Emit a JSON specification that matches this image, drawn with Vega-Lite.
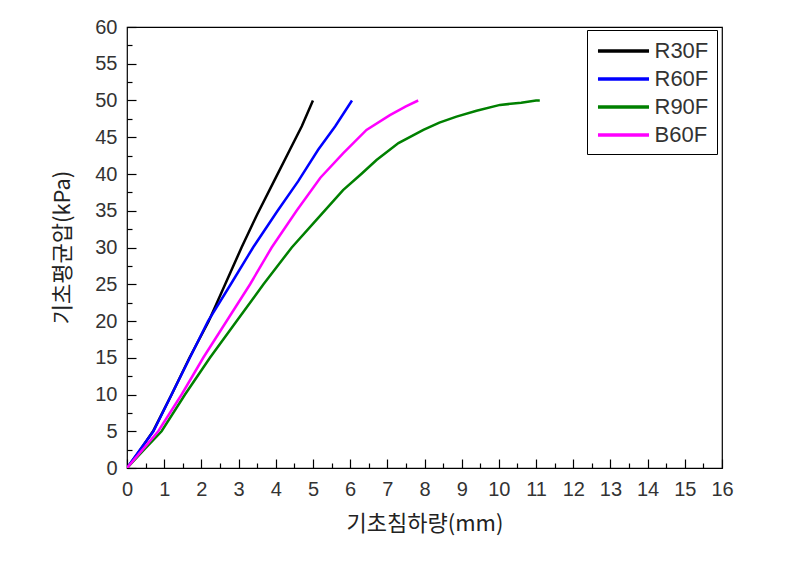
{
  "$schema": "https://vega.github.io/schema/vega-lite/v6.json",
  "width": 595,
  "height": 441,
  "autosize": {"type": "none"},
  "padding": {"left": 127, "top": 27, "right": 80, "bottom": 96},
  "background": "white",
  "config": {
    "view": {"stroke": "black", "strokeWidth": 1.2},
    "axis": {"grid": false, "domain": false, "tickColor": "black", "tickWidth": 1.2, "labelColor": "#333", "titleColor": "#222"}
  },
  "data": {
    "values": [
      {"series": "R30F", "x": 0, "y": 0},
      {"series": "R30F", "x": 0.36, "y": 2.5},
      {"series": "R30F", "x": 0.7, "y": 5},
      {"series": "R30F", "x": 1.2, "y": 10},
      {"series": "R30F", "x": 1.68, "y": 15},
      {"series": "R30F", "x": 2.2, "y": 20},
      {"series": "R30F", "x": 2.64, "y": 25},
      {"series": "R30F", "x": 3.08, "y": 30},
      {"series": "R30F", "x": 3.5, "y": 34.5},
      {"series": "R30F", "x": 3.95, "y": 39},
      {"series": "R30F", "x": 4.38, "y": 43.3},
      {"series": "R30F", "x": 4.7, "y": 46.5},
      {"series": "R30F", "x": 5.0, "y": 50},
      {"series": "R60F", "x": 0, "y": 0},
      {"series": "R60F", "x": 0.35, "y": 2.5},
      {"series": "R60F", "x": 0.71, "y": 5},
      {"series": "R60F", "x": 1.2, "y": 10},
      {"series": "R60F", "x": 1.69, "y": 15},
      {"series": "R60F", "x": 2.18, "y": 20},
      {"series": "R60F", "x": 2.79, "y": 25},
      {"series": "R60F", "x": 3.39, "y": 30},
      {"series": "R60F", "x": 4.05, "y": 35},
      {"series": "R60F", "x": 4.6, "y": 39},
      {"series": "R60F", "x": 5.14, "y": 43.3},
      {"series": "R60F", "x": 5.6, "y": 46.5},
      {"series": "R60F", "x": 6.05, "y": 50},
      {"series": "R90F", "x": 0, "y": 0},
      {"series": "R90F", "x": 0.46, "y": 2.5},
      {"series": "R90F", "x": 0.93, "y": 5},
      {"series": "R90F", "x": 1.56, "y": 10},
      {"series": "R90F", "x": 2.23, "y": 15},
      {"series": "R90F", "x": 2.95, "y": 20},
      {"series": "R90F", "x": 3.67, "y": 25},
      {"series": "R90F", "x": 4.43, "y": 30},
      {"series": "R90F", "x": 5.1, "y": 33.8},
      {"series": "R90F", "x": 5.81, "y": 37.8},
      {"series": "R90F", "x": 6.3, "y": 40},
      {"series": "R90F", "x": 6.71, "y": 41.9},
      {"series": "R90F", "x": 7.3, "y": 44.2},
      {"series": "R90F", "x": 7.97, "y": 46.0},
      {"series": "R90F", "x": 8.4, "y": 47},
      {"series": "R90F", "x": 8.86, "y": 47.8},
      {"series": "R90F", "x": 9.4, "y": 48.6},
      {"series": "R90F", "x": 10.03, "y": 49.4},
      {"series": "R90F", "x": 10.6, "y": 49.7},
      {"series": "R90F", "x": 11.0, "y": 50.0},
      {"series": "R90F", "x": 11.1, "y": 50.0},
      {"series": "B60F", "x": 0, "y": 0},
      {"series": "B60F", "x": 0.42, "y": 2.5},
      {"series": "B60F", "x": 0.84, "y": 5},
      {"series": "B60F", "x": 1.47, "y": 10},
      {"series": "B60F", "x": 2.05, "y": 15},
      {"series": "B60F", "x": 2.68, "y": 20},
      {"series": "B60F", "x": 3.31, "y": 25},
      {"series": "B60F", "x": 3.89, "y": 30},
      {"series": "B60F", "x": 4.56, "y": 35},
      {"series": "B60F", "x": 5.2, "y": 39.5},
      {"series": "B60F", "x": 5.81, "y": 42.8},
      {"series": "B60F", "x": 6.44, "y": 46.0},
      {"series": "B60F", "x": 7.07, "y": 48.0},
      {"series": "B60F", "x": 7.5, "y": 49.2},
      {"series": "B60F", "x": 7.83, "y": 50}
    ]
  },
  "layer": [
    {
      "mark": {"type": "line", "opacity": 0},
      "encoding": {
        "x": {
          "field": "x", "type": "quantitative",
          "scale": {"domain": [0, 16], "nice": false},
          "axis": {
            "orient": "bottom", "title": null, "labels": false,
            "values": [0.5,1.5,2.5,3.5,4.5,5.5,6.5,7.5,8.5,9.5,10.5,11.5,12.5,13.5,14.5,15.5],
            "tickSize": 5, "offset": -5
          }
        },
        "y": {
          "field": "y", "type": "quantitative",
          "scale": {"domain": [0, 60], "nice": false},
          "axis": {
            "orient": "left", "title": null, "labels": false,
            "values": [2.5,7.5,12.5,17.5,22.5,27.5,32.5,37.5,42.5,47.5,52.5,57.5],
            "tickSize": 5, "offset": -5
          }
        }
      }
    },
    {
      "mark": {"type": "line", "strokeWidth": 2.5, "clip": true},
      "encoding": {
        "x": {
          "field": "x", "type": "quantitative",
          "scale": {"domain": [0, 16], "nice": false},
          "axis": {
            "orient": "bottom",
            "offset": -9, "tickSize": 9,
            "title": "기초침하량(mm)",
            "titleFont": "Noto Sans CJK KR", "titleFontSize": 22, "titleFontWeight": "normal",
            "titleY": 64, "titleBaseline": "middle",
            "values": [0,1,2,3,4,5,6,7,8,9,10,11,12,13,14,15,16],
            "format": "d",
            "labelFont": "Liberation Sans", "labelFontSize": 20,
            "labelPadding": 11, "labelOverlap": false,
            "labelFlush": false
          }
        },
        "y": {
          "field": "y", "type": "quantitative",
          "scale": {"domain": [0, 60], "nice": false},
          "axis": {
            "orient": "left",
            "offset": -9, "tickSize": 9,
            "title": "기초평균압(kPa)",
            "titleFont": "Noto Sans CJK KR", "titleFontSize": 22, "titleFontWeight": "normal",
            "titleX": -74, "titleY": 220, "titleBaseline": "middle", "titleAlign": "center",
            "values": [0,5,10,15,20,25,30,35,40,45,50,55,60],
            "format": "d",
            "labelFont": "Liberation Sans", "labelFontSize": 20,
            "labelPadding": 10, "labelOverlap": false,
            "labelFlush": false
          }
        },
        "color": {
          "field": "series", "type": "nominal",
          "sort": ["R30F", "R60F", "R90F", "B60F"],
          "scale": {"domain": ["R30F", "R60F", "R90F", "B60F"], "range": ["#000000", "#0000ff", "#008000", "#ff00ff"]},
          "legend": {
            "title": null,
            "orient": "none", "legendX": 460, "legendY": 3,
            "strokeColor": "black", "fillColor": "white", "padding": 8,
            "symbolType": "M-2.32,0H2.32", "symbolSize": 484, "symbolStrokeWidth": 3.5,
            "symbolOffset": 15.5,
            "labelFont": "Liberation Sans", "labelFontSize": 22, "labelColor": "#333",
            "labelOffset": 18, "rowPadding": 4
          }
        }
      }
    }
  ],
  "resolve": {"axis": {"x": "independent", "y": "independent"}}
}
